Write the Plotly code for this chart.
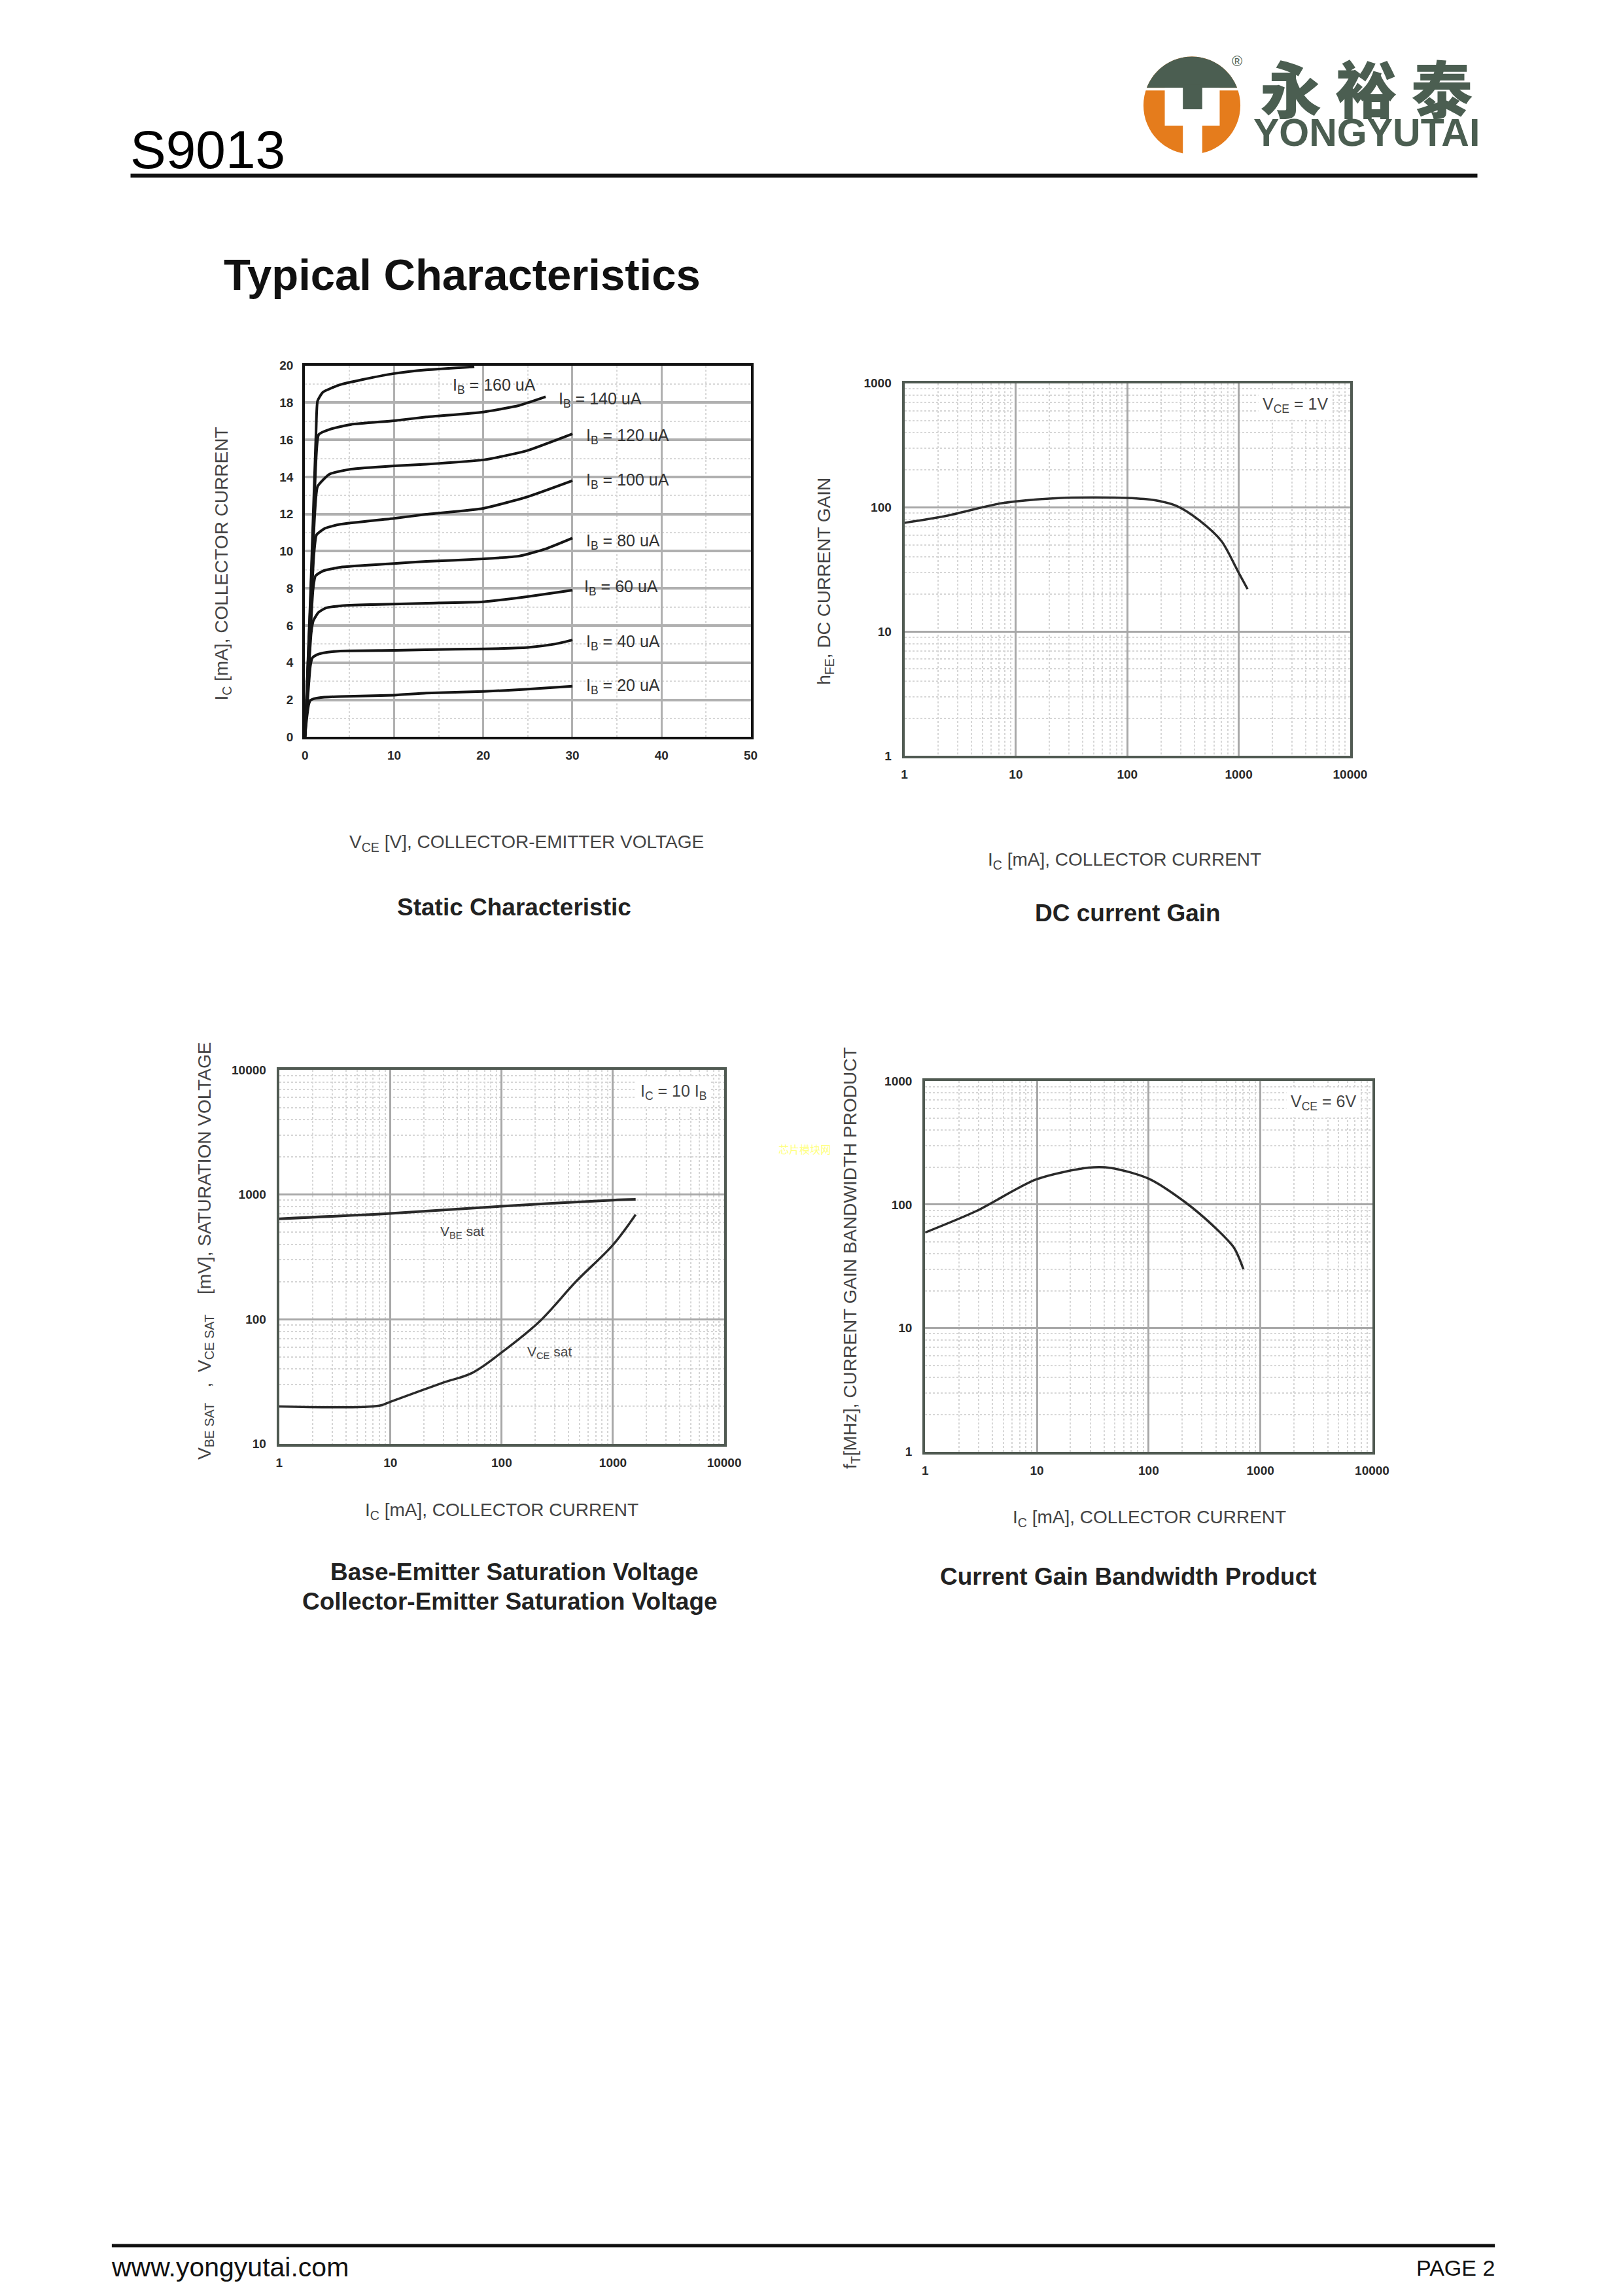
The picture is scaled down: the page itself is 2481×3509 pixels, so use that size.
import math
import plotly.graph_objects as go

# Positions are given in pixels of the 2481x3509 page and converted to paper
# fractions; the figure itself is sized to fill the browser viewport.
PAGE_W, PAGE_H = 2481, 3509
FONT = "Liberation Sans, Arial, sans-serif"


def px_x(p):
    return p / PAGE_W


def px_y(p):
    return 1 - p / PAGE_H


# ---------------- data ----------------
# Static characteristic : VCE [V] -> IC [mA] for each base current
ib_values = [20, 40, 60, 80, 100, 120, 140, 160]
vce_ib20 = [0, 0.2, 0.45, 0.63, 1.0, 1.54, 3.96, 10, 13.6, 20, 25, 30]
ic_ib20 = [0, 1.0, 1.8, 1.98, 2.06, 2.11, 2.18, 2.25, 2.36, 2.45, 2.57, 2.73]
vce_ib40 = [0, 0.3, 0.6, 0.82, 1.3, 2.0, 3.96, 10, 13.6, 20, 25, 28, 30]
ic_ib40 = [0, 2.0, 3.8, 4.25, 4.42, 4.52, 4.63, 4.66, 4.7, 4.74, 4.82, 5.0, 5.22]
vce_ib60 = [0, 0.35, 0.7, 0.94, 1.5, 2.27, 3.96, 7.6, 13.6, 20, 25, 30]
ic_ib60 = [0, 3.0, 5.6, 6.26, 6.7, 6.93, 7.06, 7.13, 7.2, 7.28, 7.56, 7.9]
vce_ib80 = [0, 0.45, 0.9, 1.18, 2.03, 3.96, 10, 13.6, 20, 24, 27, 30]
ic_ib80 = [0, 4.0, 7.9, 8.67, 8.94, 9.14, 9.34, 9.45, 9.59, 9.74, 10.13, 10.71]
vce_ib100 = [0, 0.5, 1.0, 1.3, 2.27, 3.96, 10, 13.6, 20, 25, 30]
ic_ib100 = [0, 5.0, 9.8, 10.88, 11.24, 11.45, 11.77, 11.99, 12.31, 12.94, 13.8]
vce_ib120 = [0, 0.55, 1.1, 1.42, 2.75, 5.17, 10, 13.6, 20, 23, 25, 30]
ic_ib120 = [0, 6.0, 12.0, 13.49, 14.15, 14.42, 14.6, 14.69, 14.92, 15.2, 15.43, 16.32]
vce_ib140 = [0, 0.6, 1.2, 1.55, 2.75, 5.17, 10, 13.6, 20, 24, 27]
ic_ib140 = [0, 7.0, 14.5, 16.29, 16.56, 16.83, 17.03, 17.23, 17.5, 17.85, 18.32]
vce_ib160 = [0, 0.65, 1.25, 1.42, 2.03, 3.96, 6.4, 10, 13.6, 19]
ic_ib160 = [0, 8.0, 16.5, 18.1, 18.57, 18.97, 19.24, 19.57, 19.77, 19.94]

static_curves = [
    (vce_ib20, ic_ib20), (vce_ib40, ic_ib40), (vce_ib60, ic_ib60), (vce_ib80, ic_ib80),
    (vce_ib100, ic_ib100), (vce_ib120, ic_ib120), (vce_ib140, ic_ib140), (vce_ib160, ic_ib160),
]

# DC current gain (VCE = 1V)
hfe_ic = [1, 2.4, 7.5, 24, 50, 100, 177, 278, 440, 700, 990, 1200]
hfe_val = [75, 85.5, 108, 118.8, 120, 119, 114, 102.6, 79, 53.5, 30.2, 22]

# Saturation voltages (IC = 10 IB)
vbe_ic = [1, 10, 100, 1000, 1600]
vbe_sat = [640, 706, 807, 903, 915]
vce_ic = [1, 8, 10, 29.5, 54.5, 100, 217, 469, 1000, 1600]
vce_sat = [20, 20.3, 21.8, 30.9, 37.2, 54.2, 95.3, 202, 395, 692]

# Current gain bandwidth product (VCE = 6V)
ft_ic = [1, 2.9, 9.9, 29, 46, 100, 214, 398, 582, 705]
ft_val = [59.4, 89, 160, 199, 198, 162, 104, 64.4, 44.6, 30]

# tick labels
lin_x_ticks = [0, 10, 20, 30, 40, 50]
lin_y_ticks = [0, 2, 4, 6, 8, 10, 12, 14, 16, 18, 20]
log_x_ticks = [1, 10, 100, 1000, 10000]
log_y_ticks_a = [1, 10, 100, 1000]
log_y_ticks_b = [10, 100, 1000, 10000]

# ---------------- figure ----------------
fig = go.Figure()

for (xs, ys) in static_curves:
    fig.add_trace(go.Scatter(x=xs, y=ys, mode="lines", xaxis="x", yaxis="y",
                             line=dict(color="#151515", width=4, shape="spline", smoothing=0.5),
                             showlegend=False, hoverinfo="skip"))

fig.add_trace(go.Scatter(x=hfe_ic, y=hfe_val, mode="lines", xaxis="x2", yaxis="y2",
                         line=dict(color="#2a2a2a", width=3.5, shape="spline", smoothing=0.8),
                         showlegend=False))
fig.add_trace(go.Scatter(x=vbe_ic, y=vbe_sat, mode="lines", xaxis="x3", yaxis="y3",
                         line=dict(color="#2a2a2a", width=4, shape="spline", smoothing=0.8),
                         showlegend=False))
fig.add_trace(go.Scatter(x=vce_ic, y=vce_sat, mode="lines", xaxis="x3", yaxis="y3",
                         line=dict(color="#2a2a2a", width=3.5, shape="spline", smoothing=1.0),
                         showlegend=False))
fig.add_trace(go.Scatter(x=ft_ic, y=ft_val, mode="lines", xaxis="x4", yaxis="y4",
                         line=dict(color="#2a2a2a", width=3.5, shape="spline", smoothing=0.8),
                         showlegend=False))

# plot areas in page pixels (x0, x1, y0, y1)
P1 = (467, 1157, 552, 1123)
P2 = (1395, 2085, 579, 1152)
P3 = (427, 1116, 1635, 2210)
P4 = (1427, 2119, 1652, 2222)


def dom(p):
    return [px_x(p[0]), px_x(p[1])], [px_y(p[3]), px_y(p[2])]


tickfont = dict(family=FONT, size=19, color="#2a2a2a", weight="bold")
frame_common = dict(showline=True, mirror=True, zeroline=False, ticks="",
                    tickfont=tickfont, fixedrange=True)

d1x, d1y = dom(P1)
d2x, d2y = dom(P2)
d3x, d3y = dom(P3)
d4x, d4y = dom(P4)

fig.update_layout(
    xaxis=dict(domain=d1x, anchor="y", range=[0, 50], tickvals=lin_x_ticks,
               linecolor="#111", linewidth=4, showgrid=True, gridcolor="#b0b0b0", gridwidth=3,
               minor=dict(dtick=5, tick0=0, showgrid=True, gridcolor="#d8d8d8", gridwidth=2, griddash="dot"),
               ticklabelstandoff=8, **frame_common),
    yaxis=dict(domain=d1y, anchor="x", range=[0, 20], tickvals=lin_y_ticks,
               linecolor="#111", linewidth=4, showgrid=True, gridcolor="#b0b0b0", gridwidth=4,
               minor=dict(dtick=1, tick0=0, showgrid=True, gridcolor="#d8d8d8", gridwidth=2, griddash="dot"),
               ticklabelstandoff=10, **frame_common),
)


def log_axis(domain, anchor, rng, tv, standoff):
    return dict(domain=domain, anchor=anchor, type="log", range=rng,
                tickvals=tv, ticktext=[str(v) for v in tv],
                linecolor="#505a52", linewidth=4, showgrid=True, gridcolor="#a8a8a8", gridwidth=3,
                minor=dict(dtick="D1", showgrid=True, gridcolor="#d6d6d6", gridwidth=2, griddash="dot"),
                ticklabelstandoff=standoff, **frame_common)


fig.update_layout(
    xaxis2=log_axis(d2x, "y2", [0, 4], log_x_ticks, 8),
    yaxis2=log_axis(d2y, "x2", [0, 3], log_y_ticks_a, 12),
    xaxis3=log_axis(d3x, "y3", [0, 4], log_x_ticks, 8),
    yaxis3=log_axis(d3y, "x3", [1, 4], log_y_ticks_b, 12),
    xaxis4=log_axis(d4x, "y4", [0, 4], log_x_ticks, 8),
    yaxis4=log_axis(d4y, "x4", [0, 3], log_y_ticks_a, 12),
)

annotations = []


def ann(text, x, y, size, bold=False, color="#222", xanchor="center", yanchor="middle",
        angle=0, family=FONT, bg=None, weight=None):
    d = dict(text=text, x=px_x(x), y=px_y(y), xref="paper", yref="paper", showarrow=False,
             font=dict(family=family, size=size, color=color,
                       weight=weight if weight else ("bold" if bold else "normal")),
             xanchor=xanchor, yanchor=yanchor, textangle=angle)
    if bg:
        d["bgcolor"] = bg
        d["borderpad"] = 6
    annotations.append(d)


# header / footer text
ann("S9013", 194, 220, 82, color="#000", xanchor="left")
ann("Typical Characteristics", 339, 412, 67, bold=True, color="#111", xanchor="left")
ann("www.yongyutai.com", 165, 3476, 41, color="#111", xanchor="left")
ann("PAGE 2", 2311, 3477, 34, color="#111", xanchor="right")

# logo text
LOGO_GREEN = "#4b5e51"
ann("永 裕 泰", 2110, 123, 94, color=LOGO_GREEN, family="Noto Sans CJK SC", weight=900)
ann("YONGYUTAI", 2110, 194, 59, bold=True, color=LOGO_GREEN)
ann("®", 1910, 84, 22, color=LOGO_GREEN)

# watermark
ann("芯片模块网", 1240, 1757, 16, color="#ffff80", family="Noto Sans CJK SC")

# chart 1 texts
AX = "#444"
ann("I<sub>C</sub> [mA], COLLECTOR CURRENT", 340, 857, 28, color=AX, angle=-90)
ann("V<sub>CE</sub> [V], COLLECTOR-EMITTER VOLTAGE", 810, 1286, 28, color=AX)
ann("Static Characteristic", 791, 1385, 37, bold=True, color="#222")

ib_label_pos = [(31.4, 2.73), (31.4, 5.07), (31.2, 8.06), (31.4, 10.5),
                (31.4, 13.8), (31.4, 16.2), (28.3, 18.15), (16.4, 18.9)]
for ib, (lx, ly) in zip(ib_values, ib_label_pos):
    annotations.append(dict(text=f"I<sub>B</sub> = {ib} uA", x=lx, y=ly, xref="x", yref="y",
                            showarrow=False, xanchor="left", yanchor="middle",
                            font=dict(family=FONT, size=25, color="#333")))

# chart 2 texts
ann("h<sub>FE</sub>, DC CURRENT GAIN", 1273, 884, 28, color=AX, angle=-90)
ann("I<sub>C</sub> [mA], COLLECTOR CURRENT", 1736, 1313, 28, color=AX)
ann("DC current Gain", 1741, 1394, 37, bold=True, color="#222")
ann("V<sub>CE</sub> = 1V", 2058, 613, 25, color="#444", xanchor="right", bg="white")

# chart 3 texts
ann("V<sub>BE SAT</sub>&nbsp;&nbsp;&nbsp;,&nbsp;&nbsp;V<sub>CE SAT</sub>&nbsp;&nbsp;&nbsp;&nbsp;[mV], SATURATION VOLTAGE",
    313, 1913, 28, color=AX, angle=-90)
ann("I<sub>C</sub> [mA], COLLECTOR CURRENT", 772, 2313, 28, color=AX)
ann("Base-Emitter Saturation Voltage", 791, 2407, 37, bold=True, color="#222")
ann("Collector-Emitter Saturation Voltage", 784, 2452, 37, bold=True, color="#222")
ann("I<sub>C</sub> = 10 I<sub>B</sub>", 1096, 1669, 25, color="#444", xanchor="right", bg="white")
ann("V<sub>BE</sub> sat", 711, 1884, 21, color="#444")
ann("V<sub>CE</sub> sat", 846, 2069, 21, color="#444")

# chart 4 texts
ann("f<sub>T</sub>[MHz], CURRENT GAIN BANDWIDTH PRODUCT", 1313, 1924, 28, color=AX, angle=-90)
ann("I<sub>C</sub> [mA], COLLECTOR CURRENT", 1774, 2324, 28, color=AX)
ann("Current Gain Bandwidth Product", 1742, 2414, 37, bold=True, color="#222")
ann("V<sub>CE</sub> = 6V", 2101, 1685, 25, color="#444", xanchor="right", bg="white")

# ---------------- shapes (page rules + logo) ----------------
shapes = []


def rect(x0, y0, x1, y1, color):
    shapes.append(dict(type="rect", xref="paper", yref="paper", x0=px_x(x0), x1=px_x(x1),
                       y0=px_y(y1), y1=px_y(y0), fillcolor=color, line=dict(width=0), layer="above"))


rect(197, 257, 2282, 263, "#111")      # header rule
rect(168, 3440, 2309, 3445, "#111")    # footer rule

# logo mark
cx, cy, r = 1840, 152, 75
shapes.append(dict(type="circle", xref="paper", yref="paper",
                   x0=px_x(cx - r), x1=px_x(cx + r), y0=px_y(cy + r), y1=px_y(cy - r),
                   fillcolor="#e57c1c", line=dict(width=0), layer="above"))
chord = 125
t0 = math.asin((cy - chord) / r)
n = 40
pts = []
for i in range(n + 1):
    t = t0 + (math.pi - 2 * t0) * i / n
    pts.append((cx + r * math.cos(t), cy - r * math.sin(t)))
path = "M " + " L ".join(f"{px_x(a):.6f},{px_y(b):.6f}" for a, b in pts) + " Z"
shapes.append(dict(type="path", path=path, xref="paper", yref="paper",
                   fillcolor=LOGO_GREEN, line=dict(width=0), layer="above"))
rect(cx - r - 2, 125, cx + r + 2, 129, "white")
rect(1798, 125, 1883, 183, "white")
rect(1826, 183, 1856, 230, "white")
rect(1826, 120, 1856, 158, LOGO_GREEN)

fig.update_layout(
    autosize=True,
    margin=dict(l=0, r=0, t=0, b=0),
    paper_bgcolor="white", plot_bgcolor="white",
    showlegend=False,
    annotations=annotations,
    shapes=shapes,
    font=dict(family=FONT),
)

fig.write_html(
    "out.html",
    config={"displayModeBar": False, "responsive": True},
    default_width="100vw",
    default_height="100vh",
    post_script=(
        "document.documentElement.style.margin='0px';"
        "document.body.style.margin='0px';"
        "document.documentElement.style.overflow='hidden';"
        "document.body.style.overflow='hidden';"
    ),
)
